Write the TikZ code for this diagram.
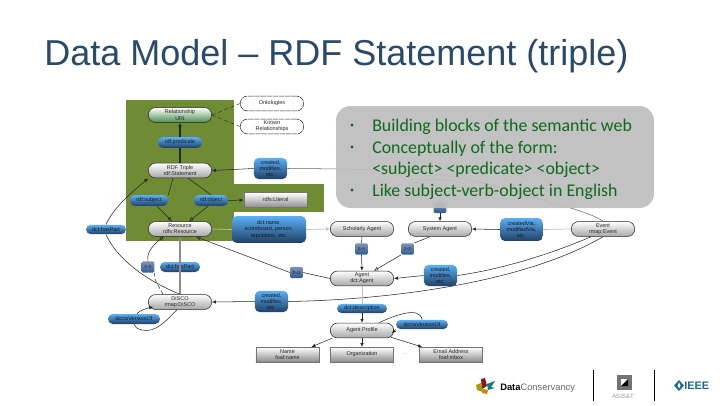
\documentclass[tikz,border=0pt]{standalone}
\usepackage{fontspec}
\setmainfont{Liberation Sans}
\newfontfamily\bodyfont{Carlito}
\usetikzlibrary{arrows.meta,calc}
\definecolor{titleblue}{HTML}{2A4A6B}
\definecolor{olivebg}{HTML}{6F8B33}
\definecolor{panelgray}{HTML}{BEBEBE}
\definecolor{bullgreen}{HTML}{0F6A1E}
\definecolor{pilltop}{HTML}{5AB0F5}
\definecolor{pillmid}{HTML}{2F7FD0}
\definecolor{pillbot}{HTML}{1F3F66}
\definecolor{slatetop}{HTML}{7C94B8}
\definecolor{slatebot}{HTML}{2F5A94}
\definecolor{ieeeblue}{HTML}{1D6B8E}
\tikzset{
  px/.style={x=0.75pt,y=-0.75pt},
  small/.style={font=\fontsize{4.1}{4.7}\selectfont,align=center,inner sep=0pt,text=black!85},
  classnode/.style={small,draw=black!85,line width=.4pt,rounded corners=5.4pt,minimum width=47.5pt,minimum height=11.2pt,top color=white,middle color=white,bottom color=black!35},
  greennode/.style={classnode,middle color=white,bottom color=green!35!black!70},
  cloudnode/.style={classnode,top color=white,bottom color=white,middle color=white,dash pattern=on 4pt off .6pt},
  boxnode/.style={small,draw=black!55,line width=.35pt,minimum width=47.5pt,minimum height=11pt,top color=white,middle color=white!92!black,bottom color=black!45},
  bluepill/.style={small,text=black!90,rounded corners=3.6pt,top color=pilltop,middle color=pillmid,bottom color=pillbot},
  slatebox/.style={small,rounded corners=1pt,minimum width=9.5pt,minimum height=8.5pt,top color=slatetop,bottom color=slatebot,text=black!80},
  conn/.style={line width=.4pt,black!85},
  arr/.style={conn,-{Latex[length=3pt,width=2.6pt]}},
  oarr/.style={conn,-{Latex[open,length=3.2pt,width=3pt]}},
  pale/.style={line width=.5pt,black!25},
  thin dash/.style={line width=.35pt,black!80,densely dashed},
  strong/.style={line width=.9pt,black!70!olivebg},
  bullet text/.style={font=\bodyfont\fontsize{13.4}{16.2}\selectfont,text=bullgreen,anchor=west,inner sep=0pt},
}
\begin{document}
\begin{tikzpicture}[px]
\useasboundingbox (0,0) rectangle (720,405);
\fill[white] (0,0) rectangle (720,405);
\node[anchor=base west,inner sep=0pt,text=titleblue,font=\fontsize{27}{30}\selectfont] (title) at (44,65) {Data Model – RDF Statement (triple)};
% green backgrounds
\fill[olivebg] (126,100) rectangle (234,241);
\fill[olivebg] (234,184) rectangle (324,212);
% nodes
\node[greennode] (rel) at (180,115) {Relationship\\URI};
\node[cloudnode] (onto) at (272,103.5) {Ontologies};
\node[cloudnode] (known) at (272,126.5) {Known\\Relationships};
\node[classnode] (triple) at (180,170.5) {RDF Triple\\rdf:Statement};
\node[classnode] (res) at (180,229) {Resource\\rdfs:Resource};
\node[classnode] (disco) at (180,302) {DiSCO\\rmap:DiSCO};
\node[classnode] (sch) at (362,229) {Scholarly Agent};
\node[classnode] (sys) at (440,229) {System Agent};
\node[classnode] (evt) at (603,229) {Event\\rmap:Event};
\node[classnode] (agent) at (362,278.5) {Agent\\dct:Agent};
\node[classnode] (prof) at (362,330.5) {Agent Profile};
\node[boxnode] (lit) at (275.5,200) {rdfs:Literal};
\node[boxnode] (name) at (287.5,354.5) {Name\\foaf:name};
\node[boxnode] (org) at (362,354.5) {Organization};
\node[boxnode] (mail) at (451,354.5) {Email Address\\foaf:mbox};
\node[small,text=black!40] (dots) at (405,354) {...};
\node[bluepill,minimum width=33pt,minimum height=8.2pt] (pred) at (180,142.5) {rdf:predicate};
\node[bluepill,minimum width=28.5pt,minimum height=8.2pt] (subj) at (149,200.5) {rdf:subject};
\node[bluepill,minimum width=25.5pt,minimum height=8.2pt] (obj) at (211,200.5) {rdf:object};
\node[bluepill,minimum width=25pt,minimum height=15.8pt] (mod1) at (270.5,168.5) {created,\\modifies,\\etc.};
\node[bluepill,minimum width=30pt,minimum height=7pt] (part1) at (106,229.5) {dct:hasPart};
\node[bluepill,minimum width=55.5pt,minimum height=20.2pt] (attr) at (269,229.5) {dct:name,\\scoreboard, person,\\reputation, etc.};
\node[bluepill,minimum width=30pt,minimum height=7.5pt] (part2) at (180,267) {dct:hasPart};
\node[bluepill,minimum width=25pt,minimum height=15.8pt] (mod2) at (271.5,301.5) {created,\\modifies,\\etc.};
\node[bluepill,minimum width=39pt,minimum height=7.5pt] (ver1) at (134,319) {dct:isVersionOf};
\node[bluepill,minimum width=32pt,minimum height=17.2pt] (mod3) at (521.5,229.5) {createdVia,\\modifiedVia,\\etc.};
\node[bluepill,minimum width=25pt,minimum height=15.8pt] (mod4) at (440.5,275.5) {created,\\modifies,\\etc.};
\node[bluepill,minimum width=37.5pt,minimum height=7pt] (desc) at (362,308.5) {dct:description};
\node[bluepill,minimum width=39pt,minimum height=7pt] (ver2) at (422,324.5) {dct:isVersionOf};
\node[slatebox] (b1) at (148,267) {s-s};
\node[slatebox] (b2) at (296.5,272.5) {b-a};
\node[slatebox] (b3) at (361.5,249) {s-s};
\node[slatebox] (b4) at (407.5,249) {s-s};
\node[slatebox] (b5) at (440,207.5) {s-s};
% connectors
\draw[thin dash] (rel.east) -- (onto.west);
\draw[thin dash] (rel.east) -- (known.west);
\draw[strong] (triple.north) -- (pred.south);
\draw[strong,-{Latex[length=3pt,width=3pt]}] (pred.north) -- (rel.south);
\draw[conn] (triple.south) ++(-7,0) -- (subj.north east);
\draw[oarr] (subj.south) ++(8,0) -- ($(res.north)+(-8,0)$);
\draw[conn] (triple.south) ++(8,0) -- (obj.north);
\draw[oarr] (obj.south) ++(-3,0) -- ($(res.north)+(9,0)$);
\draw[arr] (obj.east) -- (lit.west);
\draw[arr] (mod1.west) -- (triple.east);
\draw[conn,black!60] (mod1.east) .. controls (400,169) and (450,172) .. (500,188) .. controls (560,205) and (590,212) .. (evt.north);
\draw[pale] (attr.west) -- (res.east);
\draw[pale,-{Latex[length=3pt,width=2.6pt]}] (attr.east) -- (sch.west);
\draw[arr] (part1.north) .. controls (115,205) and (135,190) .. (triple.south west);
\draw[conn] (part1.south) .. controls (115,255) and (140,278) .. (disco.north);
\draw[line width=1pt,black!45,-{Latex[length=3pt,width=3pt]}] (disco.north) -- (res.south);
\draw[conn,densely dashed] (disco.north) ++(-17,0) .. controls (158,285) and (153,278) .. (b1.south east);
\draw[oarr] (b1.north) .. controls (146,252) and (155,243) .. ($(res.south)+(-16,0)$);
\draw[conn] (agent.west) -- (b2.east);
\draw[oarr] (b2.west) -- ($(res.south)+(16,0)$);
\draw[arr] (mod2.west) -- (disco.east);
\draw[conn] (mod2.east) .. controls (380,300) and (520,285) .. (evt.south);
\draw[arr] (mod4.west) -- (agent.east);
\draw[conn] (mod4.east) .. controls (510,268) and (560,250) .. ($(evt.south)+(-12,0)$);
\draw[arr] (mod3.west) -- (sys.east);
\draw[pale] (mod3.east) -- (evt.west);
\draw[conn] (sch.south) -- (b3.north);
\draw[arr] (b3.south) -- (agent.north);
\draw[conn] (sys.south) ++(-10,0) -- (b4.north east);
\draw[oarr] (b4.south west) -- ($(agent.north)+(12,0)$);
\draw[arr] (b5.south) -- (sys.north);
\draw[conn,black!60] (b5.north) -- ++(0,-8) .. controls (440,184) and (470,190) .. (465,184) .. controls (445,176) and (420,180) .. (412,184);
\draw[pale] (agent.south) -- (desc.north);
\draw[arr] (desc.south) -- (prof.north);
\draw[conn] (prof.north) ++(17,0) .. controls (395,315) and (420,306) .. (ver2.north);
\draw[arr] (ver2.south west) -- ($(prof.east)+(-2,3)$);
\draw[arr] (prof.south) -- (org.north);
\draw[arr] (prof.south west) ++(2,0) -- ($(name.north east)+(-8,0)$);
\draw[arr] (prof.south east) ++(-3,-1) -- ($(mail.north west)+(3,0)$);
\draw[conn] (disco.south) ++(-3,0) .. controls (165,322) and (155,333) .. (142,330) .. controls (137,329) and (135,327) .. (ver1.south);
\draw[arr] (ver1.north) ++(3,0) .. controls (140,310) and (145,309) .. ($(disco.south west)+(5,-3)$);
% overlay panel
\fill[panelgray,fill opacity=.93,rounded corners=11pt] (336,106) rectangle (654,208);
\foreach \yy in {125,147,190}{\fill[bullgreen] (352,\yy) circle (1.7);}
\node[bullet text] (t1) at (372,127) {Building blocks of the semantic web};
\node[bullet text] (t2) at (372,149) {Conceptually of the form:};
\node[bullet text] (t3) at (372,170) {<subject> <predicate> <object>};
\node[bullet text] (t4) at (372,192) {Like subject-verb-object in English};
% logos
\fill[red!50!black!90] (481,379) -- (485,378) -- (487,386) -- (482,389) -- cycle;
\fill[olive!80!yellow] (476,385) -- (481,383) -- (483,392) -- (477,390) -- cycle;
\fill[teal] (487,384) -- (495,381) -- (491,387) -- (495,388) -- (488,390) -- cycle;
\fill[orange!70!olive] (483,389) -- (488,390) -- (487,394) -- (482,393) -- cycle;
\node[anchor=west,inner sep=0pt,font=\fontsize{7}{8}\selectfont] (dc) at (500,388) {\textbf{Data}\textcolor{black!60}{Conservancy}};
\draw[line width=.9pt] (593.5,370) -- (593.5,401);
\draw[line width=.9pt] (654.5,370) -- (654.5,401);
\fill[black!55] (617,375) rectangle (632,390);
\fill[white] (621,379) rectangle (628,386);
\fill[black] (628,379) -- (628,386) -- (621,386) -- cycle;
\node[inner sep=0pt,font=\fontsize{4.6}{5}\selectfont,text=black!40] (asis) at (623,396) {ASIS\&T};
\fill[ieeeblue] (679,380) -- (684,385.5) -- (679,391) -- (674,385.5) -- cycle;
\fill[white] (679,382.5) -- (680.5,385.5) -- (679,388.5) -- (677.5,385.5) -- cycle;
\node[anchor=west,inner sep=0pt,text=ieeeblue,font=\fontsize{8.2}{9}\selectfont\bfseries] (ieee) at (684,385.5) {IEEE};
\end{tikzpicture}
\end{document}
